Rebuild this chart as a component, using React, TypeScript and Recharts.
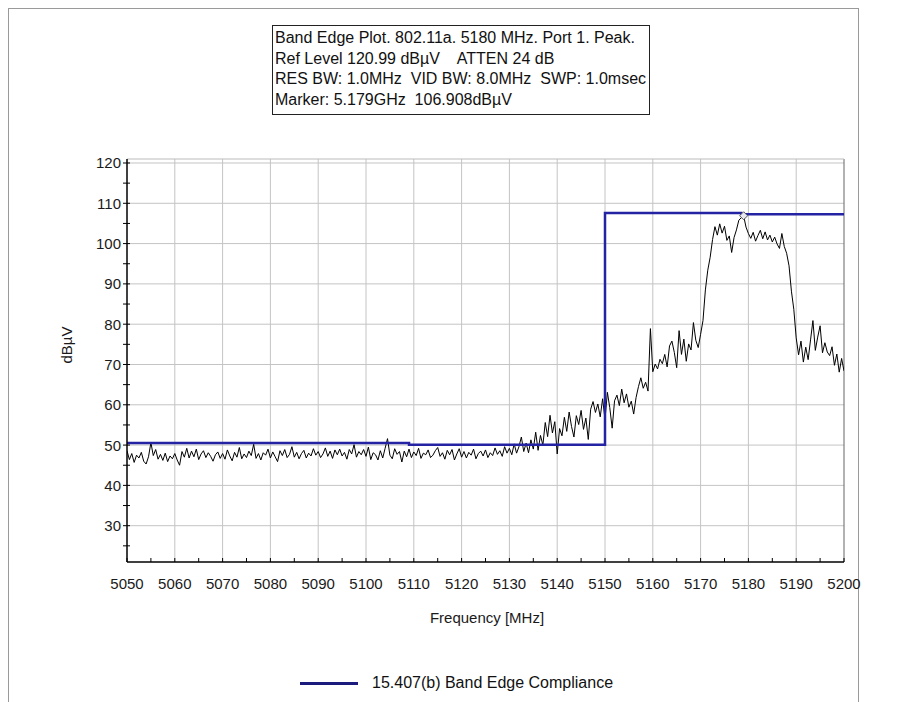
import React from 'react';
import { LineChart, Line, XAxis, YAxis, ReferenceLine, ReferenceDot } from 'recharts';

// ---- data ----
const START_MHZ = 5050;
const STEP_MHZ = 0.5;
const traceLevels: number[] = [
  48.6, 46.4, 47.9, 45.7, 47.5, 46.8, 48.2, 46.0, 45.3, 47.1, 50.6, 47.4, 48.9, 46.5, 47.7, 46.2, 48.0, 45.9, 47.3, 46.6,
  47.9, 46.3, 45.0, 48.4, 47.0, 49.2, 46.8, 48.5, 47.1, 49.0, 46.4, 47.8, 48.6, 46.9, 48.1, 47.2, 46.0, 47.6, 48.3, 46.7,
  47.9, 46.5, 48.8, 47.3, 46.1, 48.2, 47.0, 49.4, 46.6, 47.8, 46.9, 48.5, 47.4, 50.2, 46.7, 47.9, 46.3, 48.1, 47.5, 49.0,
  46.8, 48.3, 47.1, 45.9, 48.6, 47.4, 48.9, 46.9, 47.7, 49.6, 47.0, 48.2, 46.6, 47.9, 48.7, 46.8, 48.0, 47.3, 49.1, 47.5,
  48.4, 46.9, 47.8, 49.3, 47.2, 48.5, 46.7, 48.8, 47.6, 49.0, 47.3, 48.2, 46.5, 48.9, 47.8, 50.1, 47.0, 48.4, 47.6, 48.9,
  47.2, 49.5, 46.4, 48.1, 47.6, 46.3, 48.6, 46.8, 49.2, 51.6, 47.5, 46.6, 49.1, 47.7, 48.4, 45.8, 48.5, 47.1, 49.0, 46.9,
  48.3, 47.4, 49.2, 46.7, 48.0, 47.6, 48.8, 46.9, 47.5, 48.6, 49.4, 47.2, 48.1, 46.5, 48.7, 47.6, 48.9, 46.3, 47.8, 49.1,
  47.0, 48.4, 46.8, 48.2, 47.5, 49.0, 46.6, 47.9, 48.5, 47.3, 48.8, 46.9, 48.1, 47.4, 49.3, 47.7, 48.6, 47.2, 49.6, 48.0,
  49.2, 47.6, 50.3, 48.0, 49.6, 52.0, 48.4, 50.5, 48.1, 51.3, 49.0, 53.2, 48.7, 52.4, 50.0, 55.6, 52.1, 57.4, 53.0, 55.8,
  47.8, 54.1, 52.3, 56.9, 53.4, 58.2, 54.6, 52.0, 57.3, 55.1, 58.6, 53.9, 56.7, 51.4, 58.9, 60.8, 58.1, 60.2, 57.0, 61.5,
  56.4, 63.1, 59.3, 54.2, 61.0, 62.4, 59.8, 63.9, 60.5, 62.7, 59.4, 60.9, 57.7, 61.8, 64.5, 66.7, 64.1, 65.6, 63.4, 78.9,
  68.2, 70.1, 68.9, 71.3, 70.2, 72.5, 69.4, 74.6, 75.8, 73.0, 69.2, 78.4, 72.5, 76.3, 70.8, 75.1, 73.6, 80.4, 76.0, 74.2,
  77.5, 80.9, 88.5, 93.4, 96.6, 101.0, 104.2, 102.1, 104.9, 102.6, 104.3, 100.8, 101.9, 97.8, 101.5, 103.4, 105.8, 106.4, 106.9, 104.1,
  102.5, 101.3, 102.8, 100.6, 102.0, 103.3, 101.2, 102.9, 100.9, 102.1, 100.4, 101.6, 99.9, 98.8, 102.5, 99.3, 97.6, 94.5, 88.2, 83.7,
  76.6, 72.4, 75.8, 70.6, 74.3, 71.2, 76.1, 80.9, 73.5, 76.8, 79.6, 72.9, 75.4, 73.1, 72.2, 74.4, 69.8, 72.6, 68.1, 71.5,
  68.4,
];

const limitFreqs = [5050, 5109, 5109, 5150, 5150, 5178.5, 5178.5, 5200];
const limitLevels = [50.5, 50.5, 50.1, 50.1, 107.6, 107.6, 107.3, 107.3];

const xTicks = [5050, 5055, 5060, 5065, 5070, 5075, 5080, 5085, 5090, 5095, 5100, 5105, 5110, 5115, 5120, 5125, 5130, 5135, 5140, 5145, 5150, 5155, 5160, 5165, 5170, 5175, 5180, 5185, 5190, 5195, 5200];
const xGrid = [5060, 5070, 5080, 5090, 5100, 5110, 5120, 5130, 5140, 5150, 5160, 5170, 5180, 5190];
const yTicks = [25, 30, 35, 40, 45, 50, 55, 60, 65, 70, 75, 80, 85, 90, 95, 100, 105, 110, 115, 120];
const yGrid = [30, 40, 50, 60, 70, 80, 90, 100, 110, 120];

const REF_LEVEL = 120.99;
const BOTTOM_LEVEL = 20.99;
const markerFreq = 5179;
const markerLevel = 106.908;

const titleLines = [
  'Band Edge Plot. 802.11a. 5180 MHz. Port 1. Peak.',
  'Ref Level 120.99 dBµV    ATTEN 24 dB',
  'RES BW: 1.0MHz  VID BW: 8.0MHz  SWP: 1.0msec',
  'Marker: 5.179GHz  106.908dBµV',
];
const xAxisTitle = 'Frequency [MHz]';
const yAxisTitle = 'dBµV';
const legendLabel = '15.407(b) Band Edge Compliance';

const traceData = traceLevels.map((v, i) => ({ f: START_MHZ + i * STEP_MHZ, v }));
const limitData = limitFreqs.map((f, i) => ({ f, v: limitLevels[i] }));

const FONT = '"Liberation Sans", Arial, sans-serif';
const LIMIT_COLOR = '#2323a3';

const XTick = (props: any) => {
  const { x, y, payload } = props;
  const major = payload.value % 10 === 0;
  return (
    <g>
      <line x1={x} x2={x} y1={y} y2={y - 4} stroke="#000" strokeWidth={1} />
      {major && (
        <text x={x} y={y + 21} textAnchor="middle" dominantBaseline="central" fontSize={15} fontFamily={FONT} fill="#1a1a1a">
          {payload.value}
        </text>
      )}
    </g>
  );
};

const YTick = (props: any) => {
  const { x, y, payload } = props;
  const major = payload.value % 10 === 0;
  return (
    <g>
      <line x1={x - 4} x2={x + 3} y1={y} y2={y} stroke="#000" strokeWidth={1} />
      {major && (
        <text x={x - 6} y={y} textAnchor="end" dominantBaseline="central" fontSize={15} fontFamily={FONT} fill="#1a1a1a">
          {payload.value}
        </text>
      )}
    </g>
  );
};

const Diamond = (props: any) => {
  const { cx, cy } = props;
  if (cx == null || cy == null) return null;
  const r = 4;
  return (
    <polygon
      points={`${cx},${cy - r} ${cx + r},${cy} ${cx},${cy + r} ${cx - r},${cy}`}
      fill="#e8e8f0"
      stroke="#555"
      strokeWidth={1}
    />
  );
};

export default function App() {
  return (
    <div style={{ position: 'relative', width: 883, height: 694, overflow: 'hidden', fontFamily: FONT, background: '#fff' }}>
      <div style={{ position: 'absolute', left: 0, top: 0, width: 849, height: 720, borderLeft: '1px solid #9a9a9a', borderRight: '1px solid #9a9a9a', borderTop: '1px solid #9a9a9a' }} />
      <div
        style={{
          position: 'absolute', left: 264, top: 17, width: 378, height: 90, boxSizing: 'border-box',
          border: '1px solid #222', paddingTop: 2, paddingLeft: 2, fontSize: 16, lineHeight: '20.6px',
          whiteSpace: 'pre', color: '#111',
        }}
      >
        {titleLines.map((t) => (
          <div key={t}>{t}</div>
        ))}
      </div>
      <div style={{ position: 'absolute', left: 0, top: 0 }}>
        <LineChart width={883} height={694} margin={{ top: 151, right: 47, left: 0, bottom: 100 }}>
          <XAxis
            dataKey="f"
            type="number"
            domain={[5050, 5200]}
            ticks={xTicks}
            interval={0}
            tick={<XTick />}
            tickLine={false}
            tickSize={0}
            tickMargin={0}
            height={40}
            axisLine={{ stroke: '#000', strokeWidth: 1.5 }}
            allowDataOverflow
          />
          <YAxis
            type="number"
            domain={[BOTTOM_LEVEL, REF_LEVEL]}
            ticks={yTicks}
            interval={0}
            tick={<YTick />}
            tickLine={false}
            tickSize={0}
            tickMargin={0}
            width={119}
            axisLine={{ stroke: '#000', strokeWidth: 1.5 }}
            allowDataOverflow
          />
          {yGrid.map((g) => (
            <ReferenceLine key={'y' + g} y={g} stroke="#c4c4c4" strokeWidth={1} />
          ))}
          {xGrid.map((g) => (
            <ReferenceLine key={'x' + g} x={g} stroke="#c4c4c4" strokeWidth={1} />
          ))}
          <ReferenceLine x={5200} stroke="#666" strokeWidth={1} />
          <ReferenceLine y={REF_LEVEL} stroke="#bbb" strokeWidth={1} />
          <Line
            data={traceData}
            dataKey="v"
            type="linear"
            stroke="#000"
            strokeWidth={1}
            dot={false}
            isAnimationActive={false}
          />
          <Line
            data={limitData}
            dataKey="v"
            type="linear"
            stroke={LIMIT_COLOR}
            strokeWidth={2.5}
            dot={false}
            isAnimationActive={false}
          />
          <ReferenceDot x={markerFreq} y={markerLevel} r={4} shape={<Diamond />} />
        </LineChart>
      </div>
      <div
        style={{
          position: 'absolute', left: 58, top: 337, transform: 'translate(-50%, -50%) rotate(-90deg)',
          fontSize: 15, color: '#1a1a1a', whiteSpace: 'nowrap',
        }}
      >
        {yAxisTitle}
      </div>
      <div
        style={{
          position: 'absolute', left: 479, top: 609, transform: 'translate(-50%, -50%)',
          fontSize: 15, color: '#1a1a1a', whiteSpace: 'nowrap',
        }}
      >
        {xAxisTitle}
      </div>
      <div style={{ position: 'absolute', left: 292, top: 664, height: 22, display: 'flex', alignItems: 'center' }}>
        <div style={{ width: 58, height: 3, background: '#1b1b7d' }} />
        <div style={{ marginLeft: 14, fontSize: 16, color: '#111', whiteSpace: 'nowrap' }}>{legendLabel}</div>
      </div>
    </div>
  );
}
